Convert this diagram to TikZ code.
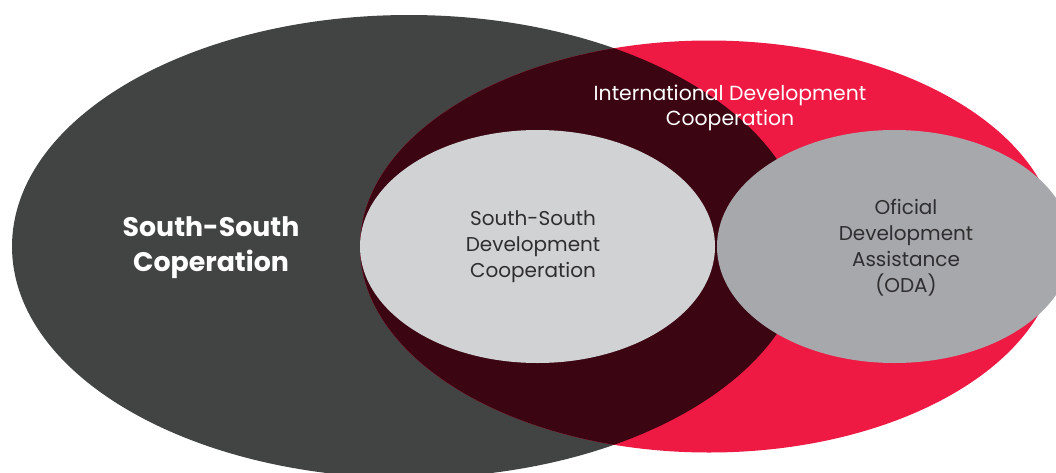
\documentclass[tikz,border=0pt]{standalone}
\usepackage{fontspec}
\setmainfont{Poppins}
\usepackage{xcolor}
\usepackage{tikz}
\definecolor{ssgrey}{HTML}{424443}
\definecolor{idred}{HTML}{EE1A43}
\definecolor{overlap}{HTML}{3B0612}
\definecolor{ssdcgrey}{HTML}{D1D2D4}
\definecolor{odagrey}{HTML}{A7A8AB}
\definecolor{inktext}{HTML}{2E2E30}
\tikzset{
	label/.style={align=center, inner sep=0pt},
	whitetext/.style={label, text=white},
	darktext/.style={label, text=inktext, font=\fontsize{10}{13}\selectfont}
}
\begin{document}
\begin{tikzpicture}[x=0.5pt,y=-0.5pt]
		\useasboundingbox (0,0) rectangle (1056,472);
		\clip (0,0) rectangle (1056,472);
		% the two big sets
		\fill [ssgrey] (409,246.5) ellipse [x radius=397, y radius=231.5];
		\fill [idred] (709,246.5) ellipse [x radius=349, y radius=206];
		\begin{scope}
			\clip (409,246.5) ellipse [x radius=397, y radius=231.5];
			\fill [overlap] (709,246.5) ellipse [x radius=349, y radius=206];
		\end{scope}
		% the two inner sets
		\fill [ssdcgrey] (537.5,246.5) ellipse [x radius=177.5, y radius=116.5];
		\fill [odagrey] (894.5,246.5) ellipse [x radius=177.5, y radius=116.5];
		% labels
		\node [whitetext, font=\fontsize{13.4}{17.5}\selectfont\bfseries] (ssc) at (211,248) {South-South\\Coperation};
		\node [whitetext, font=\fontsize{10.2}{12.2}\selectfont] (idc) at (730,108) {International Development\\Cooperation};
		\node [darktext] (ssdc) at (533,247) {South-South\\Development\\Cooperation};
		\node [darktext] (oda) at (906,248) {Oficial\\Development\\Assistance\\(ODA)};
	\end{tikzpicture}
\end{document}
